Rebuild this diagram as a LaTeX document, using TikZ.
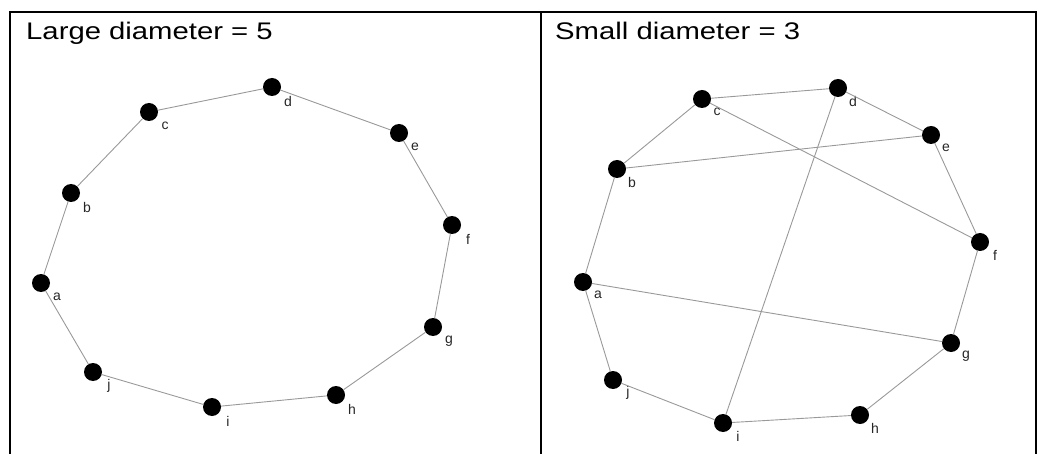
\documentclass[tikz,border=0pt]{standalone}
\usepackage{fontspec}
\setmainfont{Liberation Sans}
\newfontfamily\titlefont[FakeStretch=1.22]{Liberation Sans}
\begin{document}
\begin{tikzpicture}[x=1pt,y=-1pt,
  vtx/.style={circle,fill=black,inner sep=0pt,minimum size=18pt},
  vlab/.style={font=\fontsize{14}{14}\selectfont,inner sep=0pt,text=black!85},
  edge/.style={draw=black!40,line width=0.9pt},
  frame/.style={draw=black,line width=1.3pt},
  ttl/.style={font=\titlefont\fontsize{24}{24}\selectfont,anchor=base west,inner sep=0pt}]
\useasboundingbox (0,0) rectangle (1038,454);
% frame
\coordinate (tl) at (10,12);
\coordinate (tr) at (1036,12);
\coordinate (bl) at (10,454);
\coordinate (br) at (1036,454);
\coordinate (mt) at (541,12);
\coordinate (mb) at (541,454);
\draw[frame] (bl) -- (tl) -- (tr) -- (br);
\draw[frame] (mt) -- (mb);
% titles
\node[ttl] (t1) at (26,40) {Large diameter = 5};
\node[ttl] (t2) at (555,40) {Small diameter = 3};
% left graph
\foreach \n/\x/\y in {a/41/283, b/71/193, c/149/112, d/272/87, e/399/133, f/452/225, g/433/327, h/336/395, i/212/407, j/93/372}{
  \node[vtx] (L\n) at (\x,\y) {};
  \node[vlab] (LL\n) at (\x+16,\y+14) {\n};
}
\foreach \u/\v in {a/b,b/c,c/d,d/e,e/f,f/g,g/h,h/i,i/j,j/a}{
  \path[edge] (L\u) -- (L\v);
}
% right graph
\foreach \n/\x/\y in {a/583/282, b/617/169, c/702/99, d/838/88, e/931/135, f/980/242, g/951/343, h/860/415, i/723/423, j/613/380}{
  \node[vtx] (R\n) at (\x,\y) {};
  \node[vlab] (RL\n) at (\x+15,\y+13) {\n};
}
\foreach \u/\v in {a/b,b/c,c/d,d/e,e/f,f/g,g/h,h/i,i/j,j/a,b/e,c/f,d/i,a/g}{
  \path[edge] (R\u) -- (R\v);
}
\end{tikzpicture}
\end{document}
